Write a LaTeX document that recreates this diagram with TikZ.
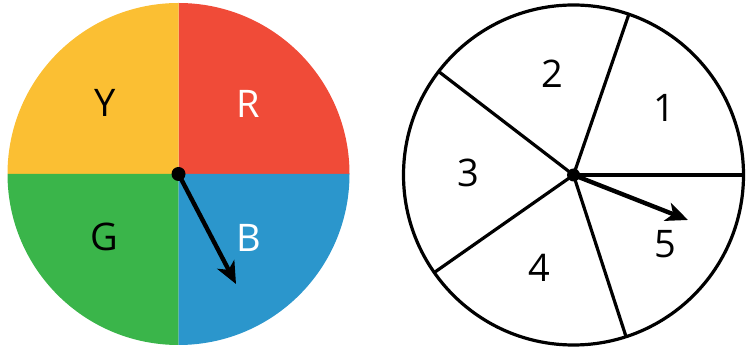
\documentclass[tikz,border=0pt]{standalone}
\usepackage{fontspec}
\setmainfont{Open Sans}
\usetikzlibrary{arrows.meta,calc}
\definecolor{colY}{HTML}{FBBF33}
\definecolor{colR}{HTML}{F04B38}
\definecolor{colG}{HTML}{3AB54A}
\definecolor{colB}{HTML}{2B96CC}
\tikzset{
  lbl/.style={font=\fontsize{38}{38}\selectfont, inner sep=0pt, anchor=center},
  pointer/.style={line width=4.4pt, -{Stealth[length=22pt,width=19pt,inset=6pt]}},
  spoke/.style={line width=3.2pt},
}
\begin{document}
\begin{tikzpicture}[x=1pt,y=1pt]
\useasboundingbox (0,0) rectangle (746,350);
% left spinner
\coordinate (c1) at (178.5,176);
\fill[colR] (c1) -- ++(0:171) arc (0:90:171) -- cycle;
\fill[colY] (c1) -- ++(90:171) arc (90:180:171) -- cycle;
\fill[colG] (c1) -- ++(180:171) arc (180:270:171) -- cycle;
\fill[colB] (c1) -- ++(270:171) arc (270:360:171) -- cycle;
\node[lbl, text=black] (Y) at (105.5,247) {Y};
\node[lbl, text=white] (R) at (248.5,246) {R};
\node[lbl, text=black] (G) at (104,113) {G};
\node[lbl, text=white] (B) at (248.5,112.5) {B};
\coordinate (t1) at (236,66);
\draw[pointer] (c1) -- (t1);
\fill (c1) circle (7);
% right spinner
\coordinate (c2) at (573.5,175);
\foreach \a/\n in {0/p0,71/p1,142.5/p2,215/p3,288/p4} {
  \coordinate (\n) at ($(c2)+(\a:170)$);
  \draw[spoke] (c2) -- (\n);
}
\draw[line width=3.2pt] (c2) circle (170);
\node[lbl] (n1) at (664,242) {1};
\node[lbl] (n2) at (552.3,276) {2};
\node[lbl] (n3) at (468.3,177.3) {3};
\node[lbl] (n4) at (539.3,81.7) {4};
\node[lbl] (n5) at (665.7,106) {5};
\coordinate (t2) at (688,130);
\draw[pointer] (c2) -- (t2);
\fill (c2) circle (6.5);
\end{tikzpicture}
\end{document}
